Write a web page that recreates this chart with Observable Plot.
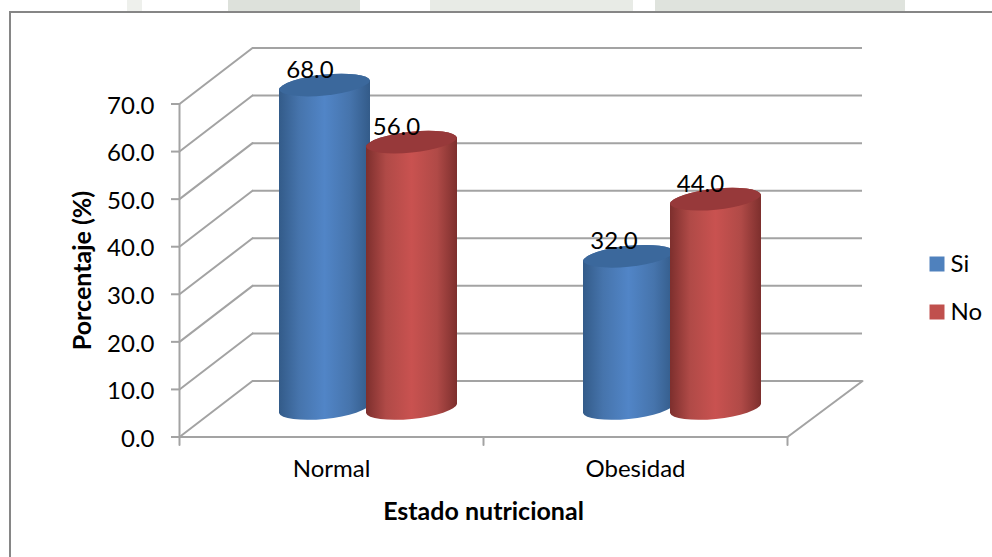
<!DOCTYPE html>
<html>
<head>
<meta charset="utf-8">
<script src="https://cdn.jsdelivr.net/npm/d3@7"></script>
<script src="https://cdn.jsdelivr.net/npm/@observablehq/plot@0.6"></script>
<style>
html,body{margin:0;padding:0;background:#fff;overflow:hidden;width:992px;height:557px}
#strip{position:absolute;left:0;top:0;width:992px;height:11px;
background:linear-gradient(90deg,#fff 127px,#eef0ec 127px,#eef0ec 142px,#fff 142px,#fff 228px,#dde1db 228px,#dde1db 360px,#fff 360px,#fff 430px,#e8ebe6 430px,#e8ebe6 633px,#fff 633px,#fff 655px,#dfe3dd 655px,#dfe3dd 905px,#fff 905px)}
#border{position:absolute;left:9px;top:11px;width:1100px;height:700px;border:2px solid #868686;box-sizing:border-box}
#chart{position:absolute;left:0;top:0}
</style>
</head>
<body>
<div id="strip"></div>
<div id="border"></div>
<div id="chart"></div>
<script>
const categories = ["Normal", "Obesidad"];
const seriesNames = ["Si", "No"];
const siValues = [68.0, 32.0];
const noValues = [56.0, 44.0];
const yTicks = [0, 10, 20, 30, 40, 50, 60, 70];

const rowsSi = categories.map((c, i) => ({estado: c, value: siValues[i]}));
const rowsNo = categories.map((c, i) => ({estado: c, value: noValues[i]}));

const fontFamily = "Lato, Carlito, Calibri, sans-serif";
const grid = "#a3a3a3";
const lineWidth = 2;
const labelSize = 24;

// depth of the oblique 3D box, in pixels
const depthX = 73, depthY = 56;
const halfBand = 152;

const line = {draw(ctx, l) { ctx.moveTo(0, 0); ctx.lineTo(0, -l); }};

function cylinder(capFill) {
  return function (index, scales, values, dims, ctx, next) {
    const g = next(index, scales, values, dims, ctx);
    const ns = "http://www.w3.org/2000/svg";
    const tilt = 6, k = 4.6, b = 11;
    for (const rect of [...g.querySelectorAll("rect")]) {
      const L = +rect.getAttribute("x"), W = +rect.getAttribute("width");
      const T = +rect.getAttribute("y"), H = +rect.getAttribute("height");
      const R = L + W, B = T + H, a = W / 2 + 0.3;
      const body = document.createElementNS(ns, "path");
      body.setAttribute("d",
        `M${L},${T + k}L${L},${B + k}A${a} ${b} ${-tilt} 0 0 ${R},${B - k}L${R},${T - k}A${a} ${b} ${-tilt} 0 0 ${L},${T + k}Z`);
      const cap = document.createElementNS(ns, "path");
      cap.setAttribute("d",
        `M${L},${T + k}A${a} ${b} ${-tilt} 0 1 ${R},${T - k}A${a} ${b} ${-tilt} 0 1 ${L},${T + k}Z`);
      cap.setAttribute("fill", capFill);
      rect.replaceWith(body, cap);
    }
    return g;
  };
}

function gradient(id, edge, mid, centre) {
  return `<linearGradient id="${id}" x1="0" x2="1" y1="0" y2="0">
    <stop offset="0" stop-color="${edge}"/>
    <stop offset="0.22" stop-color="${mid}"/>
    <stop offset="0.5" stop-color="${centre}"/>
    <stop offset="0.78" stop-color="${mid}"/>
    <stop offset="1" stop-color="${edge}"/>
  </linearGradient>`;
}

const defs = () => {
  const g = document.createElementNS("http://www.w3.org/2000/svg", "g");
  g.innerHTML = `<defs>${gradient("gradSi", "#335b89", "#4674ac", "#5185c7")}${gradient("gradNo", "#7d2f2d", "#b04a47", "#c95250")}</defs>`;
  return g;
};

const legendEntry = (name, color, dy) => [
  Plot.dot([name], {frameAnchor: "top-right", dx: 149.5, dy, symbol: "square", r: 8.46, fill: color}),
  Plot.text([name], {frameAnchor: "top-right", dx: 163, dy: dy + 0.5, text: d => d, textAnchor: "start", lineAnchor: "middle", fontSize: labelSize, fill: "#000"})
];

const chart = Plot.plot({
  width: 992,
  height: 557,
  marginLeft: 179,
  marginRight: 205,
  marginTop: 103.5,
  marginBottom: 120.5,
  style: {fontFamily, background: "transparent", overflow: "visible"},
  x: {type: "band", domain: categories, padding: 0, round: false, label: null},
  y: {domain: [0, 70], label: null},
  marks: [
    defs,
    // back wall gridlines
    Plot.ruleY(yTicks, {dx: depthX, dy: -depthY, stroke: grid, strokeWidth: lineWidth, insetRight: -2}),
    // side wall diagonals
    Plot.vector(yTicks, {x: () => categories[0], y: d => d, dx: -halfBand, length: Math.hypot(depthX, depthY), rotate: 52.5, anchor: "start", shape: line, stroke: grid, strokeWidth: lineWidth}),
    // floor right edge
    Plot.vector([0], {x: () => categories[1], y: d => d, dx: halfBand, length: Math.hypot(depthX + 2, depthY), rotate: 53.3, anchor: "start", shape: line, stroke: grid, strokeWidth: lineWidth}),
    // front floor line and value axis
    Plot.ruleY([0], {stroke: grid, strokeWidth: lineWidth}),
    Plot.frame({anchor: "left", stroke: grid, strokeWidth: lineWidth}),
    // category ticks
    Plot.vector(categories, {x: d => d, y: () => 0, dx: halfBand, length: 8, rotate: 180, anchor: "start", shape: line, stroke: grid, strokeWidth: lineWidth}),
    Plot.vector([categories[0]], {x: d => d, y: () => 0, dx: -halfBand, length: 8, rotate: 180, anchor: "start", shape: line, stroke: grid, strokeWidth: lineWidth}),
    Plot.axisY({ticks: yTicks, tickSize: 8, text: null, stroke: grid, strokeWidth: lineWidth, label: null, anchor: "left"}),
    Plot.axisY({
      ticks: yTicks, tickFormat: d3.format(".1f"), tickSize: 0, tickPadding: 25, dy: 2,
      fontSize: labelSize, fill: "#000", label: null, anchor: "left"
    }),
    Plot.axisX({tickSize: 0, tickPadding: 23, fontSize: labelSize, fill: "#000", label: null, anchor: "bottom"}),
    // cylinders
    Plot.barY(rowsSi, {x: "estado", y1: () => 0, y2: "value", dy: -28, insetLeft: 100, insetRight: 113, fill: "url(#gradSi)", render: cylinder("#3b689c")}),
    Plot.barY(rowsNo, {x: "estado", y1: () => 0, y2: "value", dy: -28, insetLeft: 187, insetRight: 26, fill: "url(#gradNo)", render: cylinder("#97393a")}),
    // value labels
    Plot.text(rowsSi, {x: "estado", y: "value", text: d => d.value.toFixed(1), dx: -21.5, dy: -43, fontSize: labelSize, fill: "#000"}),
    Plot.text(rowsNo, {x: "estado", y: "value", text: d => d.value.toFixed(1), dx: 65, dy: -43, fontSize: labelSize, fill: "#000"}),
    // axis titles
    Plot.text(["Porcentaje (%)"], {frameAnchor: "left", text: d => d, rotate: -90, dx: -97, textAnchor: "middle", lineAnchor: "middle", fontSize: 25, fontWeight: 700, fill: "#000"}),
    Plot.text(["Estado nutricional"], {frameAnchor: "bottom", text: d => d, dy: 74.5, lineAnchor: "middle", fontSize: 25, fontWeight: 700, fill: "#000"}),
    // legend
    ...legendEntry(seriesNames[0], "#4f81bd", 160),
    ...legendEntry(seriesNames[1], "#c0504d", 208)
  ]
});
document.getElementById("chart").append(chart);
</script>
</body>
</html>
